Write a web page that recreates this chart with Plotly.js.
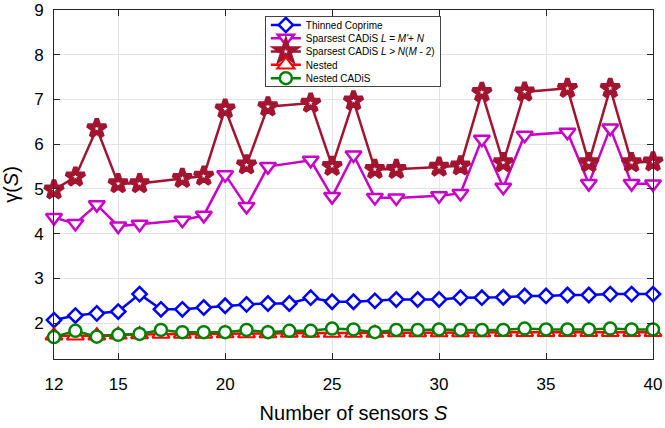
<!DOCTYPE html>
<html>
<head>
<meta charset="utf-8">
<script src="https://cdn.plot.ly/plotly-3.0.1.min.js"></script>
<style>
html,body{margin:0;padding:0;background:#fff;}
#chart{width:665px;height:428px;}
</style>
</head>
<body>
<div id="chart"></div>
<script>
// ---- data ----
const sensorsAll = [12,13,14,15,16,17,18,19,20,21,22,23,24,25,26,27,28,29,30,31,32,33,34,35,36,37,38,39,40];
const sensorsSparse = [12,13,14,15,16,18,19,20,21,22,24,25,26,27,28,30,31,32,33,34,36,37,38,39,40];

const thinnedCoprime = [2.07,2.17,2.22,2.26,2.65,2.31,2.31,2.35,2.39,2.42,2.44,2.44,2.57,2.48,2.48,2.50,2.53,2.53,2.53,2.57,2.57,2.58,2.61,2.61,2.63,2.63,2.65,2.65,2.65];
const sparsestA = [4.36,4.23,4.65,4.17,4.21,4.30,4.41,5.32,4.61,5.50,5.64,4.83,5.76,4.81,4.80,4.85,4.90,6.11,5.04,6.20,6.27,5.12,6.36,5.12,5.11];
const sparsestB = [4.98,5.27,6.35,5.12,5.12,5.24,5.29,6.79,5.54,6.84,6.92,5.51,6.97,5.44,5.44,5.49,5.52,7.16,5.59,7.17,7.25,5.59,7.25,5.59,5.61];
const nested = [1.72,1.72,1.72,1.74,1.75,1.76,1.76,1.76,1.77,1.77,1.77,1.78,1.78,1.78,1.78,1.78,1.79,1.79,1.79,1.79,1.79,1.80,1.80,1.80,1.80,1.80,1.80,1.80,1.80];
const nestedCADiS = [1.69,1.83,1.70,1.74,1.76,1.85,1.80,1.80,1.80,1.85,1.80,1.83,1.83,1.88,1.86,1.80,1.85,1.85,1.86,1.85,1.85,1.85,1.88,1.86,1.86,1.86,1.88,1.86,1.86];

const xTicks = [12,15,20,25,30,35,40];
const names = ['Thinned Coprime',
  'Sparsest CADiS <i>L</i> = <i>M\'</i>+ <i>N</i>',
  'Sparsest CADiS <i>L</i> > <i>N</i>(<i>M</i> - 2)',
  'Nested',
  'Nested CADiS'];

const FONT = '"Liberation Sans", Arial, Helvetica, sans-serif';

const traces = [
  {x: sensorsAll, y: thinnedCoprime, name: names[0], mode: 'lines+markers',
   line: {color: '#0000FF', width: 2.5},
   marker: {symbol: 'diamond', size: 11, color: '#FFFFFF', line: {color: '#0000FF', width: 2.5}}},
  {x: sensorsSparse, y: sparsestA, name: names[1], mode: 'lines+markers',
   line: {color: '#C800C8', width: 2.5},
   marker: {symbol: 'triangle-down', size: 14, color: '#FFFFFF', line: {color: '#C800C8', width: 2.5}}},
  {x: sensorsSparse, y: sparsestB, name: names[2], mode: 'lines+markers',
   line: {color: '#A2142F', width: 2.5},
   marker: {symbol: 'star', size: 14, color: '#FFFFFF', line: {color: '#A2142F', width: 4.5}}},
  {x: sensorsAll, y: nested, name: names[3], mode: 'lines+markers',
   line: {color: '#FF0000', width: 2.5},
   marker: {symbol: 'triangle-up', size: 15, color: '#FFFFFF', line: {color: '#FF0000', width: 2}}},
  {x: sensorsAll, y: nestedCADiS, name: names[4], mode: 'lines+markers',
   line: {color: '#008000', width: 2.5},
   marker: {symbol: 'circle', size: 12, color: '#FFFFFF', line: {color: '#008000', width: 2.5}}}
];
traces.forEach(t => { t.cliponaxis = false; });

const layout = {
  width: 665, height: 428,
  margin: {l: 54, r: 12, t: 10, b: 69},
  paper_bgcolor: '#FFFFFF', plot_bgcolor: '#FFFFFF',
  font: {family: FONT, color: '#000000', size: 17},
  showlegend: true,
  legend: {
    x: 0.352, y: 0.983, xanchor: 'left', yanchor: 'top',
    bgcolor: '#FFFFFF', bordercolor: '#444444', borderwidth: 1,
    font: {family: FONT, size: 10, color: '#000000'},
    itemwidth: 30
  },
  xaxis: {
    range: [12, 40], tickvals: xTicks, ticktext: xTicks.map(String),
    ticks: 'inside', ticklen: 6, tickcolor: '#262626', tickwidth: 1,
    showline: true, linecolor: '#262626', linewidth: 1, mirror: 'ticks',
    showgrid: true, gridcolor: '#E3E3E3', gridwidth: 1, zeroline: false,
    tickfont: {family: FONT, size: 17}, ticklabelstandoff: 10, ticklabeloverflow: 'allow',
    title: {text: 'Number of sensors <i>S</i>', font: {family: FONT, size: 20}, standoff: 12}
  },
  yaxis: {
    range: [1.2, 9], tick0: 0, dtick: 1,
    ticks: 'inside', ticklen: 6, tickcolor: '#262626', tickwidth: 1,
    showline: true, linecolor: '#262626', linewidth: 1, mirror: 'ticks',
    showgrid: true, gridcolor: '#E3E3E3', gridwidth: 1, zeroline: false,
    tickfont: {family: FONT, size: 17}, ticklabelstandoff: 6, ticklabeloverflow: 'allow',
    title: {text: 'γ(<i>S</i>)', font: {family: FONT, size: 20}, standoff: 10}
  }
};

Plotly.newPlot('chart', traces, layout, {displayModeBar: false, staticPlot: true}).then(function () {
  // compact legend rows to match the reference spacing
  const leg = document.querySelector('#chart .legend');
  if (!leg) return;
  const items = leg.querySelectorAll('g.traces');
  const rowH = 13.3, top = 9;
  items.forEach(function (g, i) {
    const tr = g.getAttribute('transform') || '';
    const m = tr.match(/translate\(\s*([-\d.]+)[ ,]+([-\d.]+)\s*\)/);
    const x = m ? parseFloat(m[1]) : 1;
    g.setAttribute('transform', 'translate(' + x + ',' + (top + i * rowH) + ')');
  });
  const h = top + (items.length - 1) * rowH + 8;
  const bg = leg.querySelector('rect.bg');
  if (bg) bg.setAttribute('height', h);
});
</script>
</body>
</html>
